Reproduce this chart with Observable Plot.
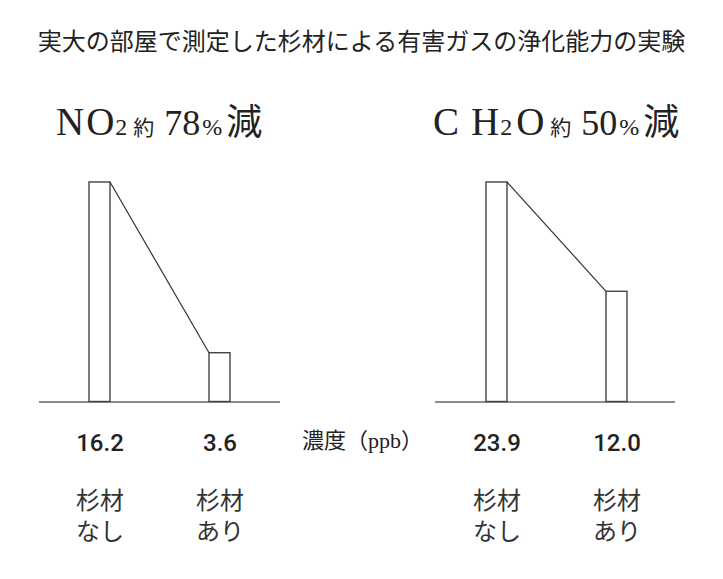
<!DOCTYPE html>
<html>
<head>
<meta charset="utf-8">
<script src="https://cdn.jsdelivr.net/npm/d3@7"></script>
<script src="https://cdn.jsdelivr.net/npm/@observablehq/plot@0.6"></script>
<style>
  html, body { margin: 0; padding: 0; background: #fff; }
  body { position: relative; width: 723px; height: 579px; overflow: hidden; }
  #title { position: absolute; left: 0; top: 28px; width: 723px; text-align: center;
    font-family: "Noto Sans CJK JP", sans-serif; font-size: 24px; line-height: 24px; color: #222; white-space: nowrap; }
  .head { position: absolute; white-space: nowrap; font-family: "Liberation Serif", "Noto Sans CJK JP", serif;
    font-size: 39px; line-height: 1; color: #222; }
  .head .sub { font-size: 24px; }
  .head .yaku { font-family: "Noto Sans CJK JP", sans-serif; font-size: 21px; margin-left: 6px; margin-right: 10px; }
  .head .num { font-size: 36px; }
  .head .pct { font-size: 24px; margin-left: 2px; margin-right: 4px; }
  .head .gen { font-family: "Noto Sans CJK JP", sans-serif; font-size: 36px; }
  #unit { position: absolute; left: 302px; top: 430px; white-space: nowrap;
    font-family: "Liberation Serif", "Noto Sans CJK JP", serif; font-size: 22px; line-height: 22px; color: #222; }
  svg { position: absolute; left: 0; top: 0; }
</style>
</head>
<body>
<div id="title"></div>
<div id="unit"></div>
<script>
// ---- data ----
const title = "実大の部屋で測定した杉材による有害ガスの浄化能力の実験";
const gases = ["NO2", "CH2O"];
const categories = ["杉材なし", "杉材あり"];
const categoryLabels = ["杉材\nなし", "杉材\nあり"];
const no2Values = [16.2, 3.6];
const ch2oValues = [23.9, 12.0];
const reductions = ["78", "50"];
const unitLabel = "濃度（ppb）";

// ---- layout (positions only) ----
const layouts = [
  {headLeft: 56, headTop: 101, letterGap: 2, marginLeft: 39, marginRight: 723 - 280, xRange: [89, 230.5]},
  {headLeft: 433, headTop: 101, letterGap: 12, marginLeft: 435, marginRight: 723 - 675, xRange: [485, 627]}
];

document.getElementById("title").textContent = title;
document.getElementById("unit").textContent = unitLabel;

function formulaHTML(f, gap) {
  const chars = Array.from(f);
  return chars.map((ch, i) => {
    const next = chars[i + 1];
    const isDigit = /\d/.test(ch);
    let mr = 0;
    if (next !== undefined) {
      if (isDigit) mr = 4;
      else if (!/\d/.test(next)) mr = gap;
      else mr = 1;
    }
    return `<span class="${isDigit ? "sub" : "el"}" style="margin-right:${mr}px">${ch}</span>`;
  }).join("");
}

function connector(data) {
  return (index, scales) => {
    const x = scales.x, y = scales.y;
    const bw = x.bandwidth ? x.bandwidth() : 0;
    const a = data[0], b = data[1];
    const ns = "http://www.w3.org/2000/svg";
    const line = document.createElementNS(ns, "line");
    line.setAttribute("x1", x(a.cat) + bw);
    line.setAttribute("y1", y(a.value));
    line.setAttribute("x2", x(b.cat));
    line.setAttribute("y2", y(b.value));
    line.setAttribute("stroke", "#333");
    line.setAttribute("stroke-width", 1.2);
    const g = document.createElementNS(ns, "g");
    g.appendChild(line);
    return g;
  };
}

function panel(values, L) {
  const data = categories.map((c, i) => ({cat: c, label: categoryLabels[i], value: values[i]}));
  return Plot.plot({
    width: 723, height: 579,
    marginLeft: L.marginLeft, marginRight: L.marginRight, marginTop: 0, marginBottom: 0,
    style: {background: "transparent", overflow: "visible"},
    x: {type: "band", domain: categories, range: L.xRange, paddingInner: 1 - 21 / 120.5, paddingOuter: 0, axis: null},
    y: {domain: [0, d3.max(values)], range: [401.5, 182], axis: null},
    marks: [
      Plot.ruleY([0], {stroke: "#666", strokeWidth: 1.6}),
      Plot.barY(data, {x: "cat", y: "value", fill: "white", stroke: "#444", strokeWidth: 1.4, inset: 0}),
      connector(data),
      Plot.text(data, {x: "cat", y: d => 0, text: d => d.value.toFixed(1), dy: 41.5,
        fontSize: 24, fontWeight: 500, fontFamily: "Roboto", fill: "#222"}),
      Plot.text(data, {x: "cat", y: d => 0, text: "label", dy: 112.5, lineHeight: 1.32,
        fontSize: 24, fontFamily: "Noto Sans CJK JP", fill: "#333"})
    ]
  });
}

[no2Values, ch2oValues].forEach((vals, i) => {
  const L = layouts[i];
  document.body.appendChild(panel(vals, L));
  const h = document.createElement("div");
  h.className = "head";
  h.style.left = L.headLeft + "px";
  h.style.top = L.headTop + "px";
  h.innerHTML = formulaHTML(gases[i], L.letterGap) +
    `<span class="yaku">約</span><span class="num">${reductions[i]}</span><span class="pct">%</span><span class="gen">減</span>`;
  document.body.appendChild(h);
});
</script>
</body>
</html>
